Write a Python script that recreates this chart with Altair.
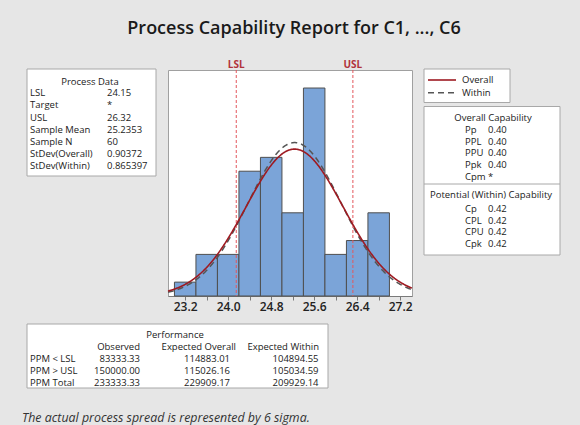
import altair as alt
import pandas as pd

# ---------------- data ----------------
bin_centers = [23.2, 23.6, 24.0, 24.4, 24.8, 25.2, 25.6, 26.0, 26.4, 26.8]
bin_counts = [1, 3, 3, 9, 10, 6, 15, 3, 4, 6]
bin_width = 0.4

spec_names = ["LSL", "USL"]
spec_values = [24.15, 26.32]

sample_mean = 25.2353
sample_n = 60
sd_overall = 0.90372
sd_within = 0.865397

axis_ticks = [23.2, 23.6, 24.0, 24.4, 24.8, 25.2, 25.6, 26.0, 26.4, 26.8, 27.2]
tick_labels = ["23.2", "24.0", "24.8", "25.6", "26.4", "27.2"]
x_domain = [22.88, 27.42]
y_domain = [0, 16.3]

process_labels = ["LSL", "Target", "USL", "Sample Mean", "Sample N",
                  "StDev(Overall)", "StDev(Within)"]
process_values = ["24.15", "*", "26.32", "25.2353", "60", "0.90372", "0.865397"]

overall_cap_labels = ["Pp", "PPL", "PPU", "Ppk", "Cpm"]
overall_cap_values = ["0.40", "0.40", "0.40", "0.40", "*"]
within_cap_labels = ["Cp", "CPL", "CPU", "Cpk"]
within_cap_values = ["0.42", "0.42", "0.42", "0.42"]

perf_rows = ["PPM < LSL", "PPM > USL", "PPM Total"]
perf_observed = ["83333.33", "150000.00", "233333.33"]
perf_exp_overall = ["114883.01", "115026.16", "229909.17"]
perf_exp_within = ["104894.55", "105034.59", "209929.14"]
perf_headers = ["Observed", "Expected Overall", "Expected Within"]

legend_labels = ["Overall", "Within"]
title_text = "Process Capability Report for C1, ..., C6"
footer_text = "The actual process spread is represented by 6 sigma."

# ---------------- layout / style ----------------
X0, Y0 = 168, 70          # plot area origin in the page
PW, PH = 244, 226         # plot area size
FONT = "Open Sans"
FS = 9.5
TXT = "#1a1a1a"
BORDER = "#a8a8a8"
RED = "#9e1b22"
SPEC = "#e4575c"
ONE = alt.Data(values=[{"k": 0}])


def vx(x):
    return alt.value(x - X0)


def vy(y):
    return alt.value(y - Y0)


def text_at(s, x, y, align="center", size=FS, weight="normal", style="normal",
            color=TXT):
    return alt.Chart(ONE).mark_text(
        align=align, baseline="middle", font=FONT, fontSize=size,
        fontWeight=weight, fontStyle=style, color=color
    ).encode(x=vx(x), y=vy(y), text=alt.value(s))


def text_col(items, x, y_first, step, align="left", size=FS, color=TXT):
    df = pd.DataFrame({"t": items, "row": list(range(len(items)))})
    return alt.Chart(df).transform_calculate(
        py=f"{y_first - Y0} + datum.row * {step}"
    ).mark_text(
        align=align, baseline="middle", font=FONT, fontSize=size, color=color
    ).encode(x=vx(x), y=alt.Y("py:Q", scale=None, axis=None), text="t:N")


def box(x1, y1, x2, y2):
    return alt.Chart(ONE).mark_rect(
        fill="white", stroke=BORDER, strokeWidth=1
    ).encode(x=vx(x1), x2=vx(x2), y=vy(y1), y2=vy(y2))


def hline(x1, x2, y, color=BORDER, width=1, dash=None):
    kw = dict(color=color, strokeWidth=width)
    if dash:
        kw["strokeDash"] = dash
    return alt.Chart(ONE).mark_rule(**kw).encode(x=vx(x1), x2=vx(x2), y=vy(y))


# ---------------- histogram panel ----------------
label_list = ",".join(f"'{t}'" for t in tick_labels)
xscale = alt.Scale(domain=x_domain, nice=False, zero=False)
yscale = alt.Scale(domain=y_domain, nice=False, zero=True)
xaxis = alt.Axis(
    values=axis_ticks, title=None, grid=False,
    labelExpr=f"indexof([{label_list}], format(datum.value, '.1f')) >= 0 ? format(datum.value, '.1f') : ''",
    labelFont=FONT, labelFontSize=12, labelFontWeight=600, labelColor="#222222",
    labelPadding=1, tickSize=4, tickColor="#7a7a7a", domainColor="#7a7a7a",
    labelFlush=False, labelOverlap=False,
)
# every layer that maps a field on x uses the very same axis definition
X = lambda f: alt.X(f, scale=xscale, axis=xaxis)
Y = lambda f: alt.Y(f, scale=yscale, axis=None)

hist_df = pd.DataFrame({"center": bin_centers, "count": bin_counts})
bars = alt.Chart(hist_df).transform_calculate(
    lo=f"datum.center - {bin_width / 2}",
    hi=f"datum.center + {bin_width / 2}",
    base="0",
).mark_rect(fill="#7ba4d8", stroke="#4f4f4f", strokeWidth=1, opacity=1).encode(
    x=X("lo:Q"), x2="hi:Q", y=Y("count:Q"), y2="base:Q",
)

spec_df = pd.DataFrame({"name": spec_names, "value": spec_values})
spec_rules = alt.Chart(spec_df).mark_rule(
    color=SPEC, strokeWidth=1, strokeDash=[3, 2]
).encode(x=X("value:Q"))
spec_text = alt.Chart(spec_df).mark_text(
    baseline="middle", font=FONT, fontSize=10, fontWeight="bold", color="#b1333b"
).encode(x=X("value:Q"), y=alt.value(-5), text="name:N")


def normal_curve(sd, **mark_kw):
    return alt.Chart(alt.sequence(x_domain[0], x_domain[1] + 0.001, 0.01, as_="x")).transform_calculate(
        d=f"{sample_n * bin_width} * exp(-0.5 * pow((datum.x - {sample_mean}) / {sd}, 2)) / ({sd} * sqrt(2 * PI))"
    ).mark_line(**mark_kw).encode(x=X("x:Q"), y=Y("d:Q"))


within_curve = normal_curve(sd_within, color="#555555", strokeWidth=1.5, strokeDash=[6, 4])
overall_curve = normal_curve(sd_overall, color=RED, strokeWidth=1.6)

layers = [bars, spec_rules, within_curve, overall_curve, spec_text]

# ---------------- annotation panels ----------------
# title and footer
layers.append(text_at(title_text, 294, 29, size=18, weight=600, color="#1a1a1a"))
layers.append(text_at(footer_text, 22, 417.5, align="left", size=12.4, style="italic", color="#333333"))

# process data box
layers.append(box(27, 69, 156, 176))
layers.append(text_at("Process Data", 90, 81.5))
layers.append(text_col(process_labels, 30, 93.3, 12.1))
layers.append(text_col(process_values, 107, 93.3, 12.1))

# legend box
layers.append(box(424, 69, 510, 102.5))
layers.append(hline(428, 456, 80, color=RED, width=1.6))
layers.append(hline(428, 456, 92.7, color="#555555", width=1.5, dash=[6, 4]))
layers.append(text_col(legend_labels, 462, 80, 12.7))

# capability box
layers.append(box(424, 106.5, 560, 255))
layers.append(text_at("Overall Capability", 493, 118))
layers.append(text_col(overall_cap_labels, 465, 130, 11.7))
layers.append(text_col(overall_cap_values, 488, 130, 11.7))
layers.append(hline(424, 560, 184))
layers.append(text_at("Potential (Within) Capability", 491, 194.5))
layers.append(text_col(within_cap_labels, 465, 209, 11.7))
layers.append(text_col(within_cap_values, 488, 209, 11.7))

# performance box
layers.append(box(27, 324, 328, 388))
layers.append(text_at("Performance", 175, 334.5))
layers.append(text_at(perf_headers[0], 140, 347, align="right"))
layers.append(text_at(perf_headers[1], 236, 347, align="right"))
layers.append(text_at(perf_headers[2], 319, 347, align="right"))
layers.append(text_col(perf_rows, 30, 359, 12.1))
layers.append(text_col(perf_observed, 140, 359, 12.1, align="right"))
layers.append(text_col(perf_exp_overall, 230, 359, 12.1, align="right"))
layers.append(text_col(perf_exp_within, 318.5, 359, 12.1, align="right"))

chart = alt.layer(*layers).properties(
    width=PW, height=PH,
    padding={"left": X0, "top": Y0, "right": 580 - X0 - PW, "bottom": 425 - Y0 - PH},
    autosize=alt.AutoSizeParams(type="none"),
    background="#e6e6e6",
).configure_view(fill="white", stroke="#a0a0a0", strokeWidth=1)

chart.save("out.html", embed_options={"renderer": "svg", "actions": False})
